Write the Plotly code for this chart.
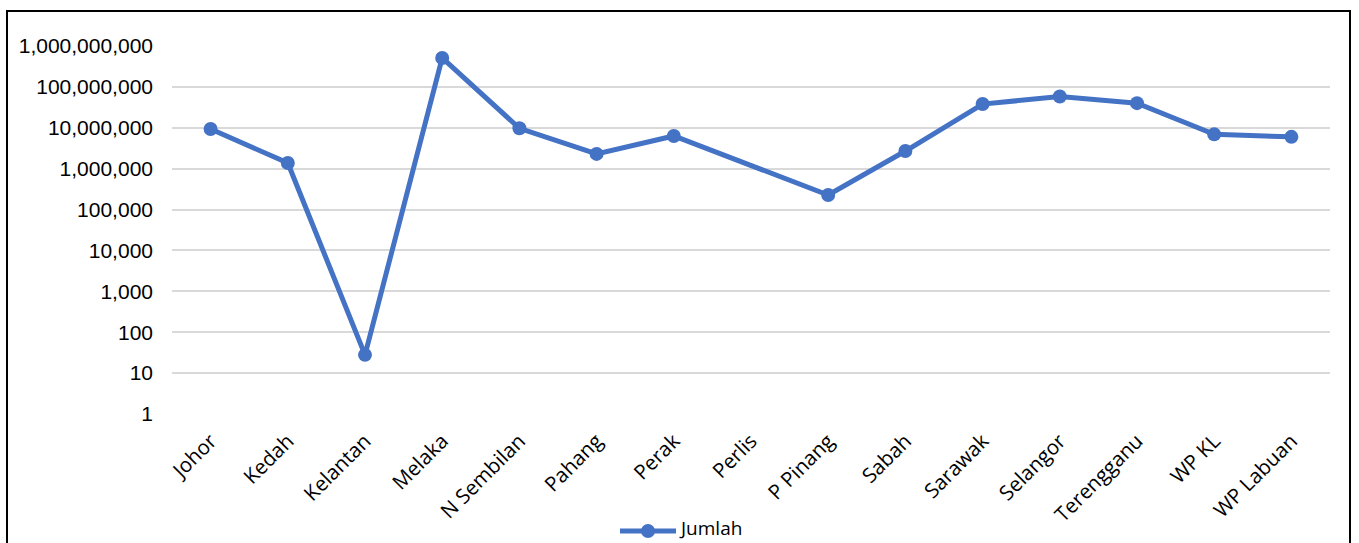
import plotly.graph_objects as go

categories = ["Johor", "Kedah", "Kelantan", "Melaka", "N Sembilan", "Pahang", "Perak",
              "Perlis", "P Pinang", "Sabah", "Sarawak", "Selangor", "Terengganu", "WP KL", "WP Labuan"]
jumlah = [9.3e6, 1.38e6, 28, 5.1e8, 9.7e6, 2.3e6, 6.3e6,
          None, 2.27e5, 2.7e6, 3.8e7, 5.8e7, 4.0e7, 6.9e6, 6.0e6]
series_name = "Jumlah"
tick_values = [1, 10, 100, 1000, 1e4, 1e5, 1e6, 1e7, 1e8, 1e9]
tick_labels = ["1", "10", "100", "1,000", "10,000", "100,000", "1,000,000",
               "10,000,000", "100,000,000", "1,000,000,000"]

color = "#4472C4"
W, H = 1359, 543
L, R, T, B = 172, 29, 46, 129
pw, ph = W - L - R, H - T - B


def px(x):
    return (x - L) / pw


def py(y):
    return (H - B - y) / ph


fig = go.Figure()
fig.add_trace(go.Scatter(
    x=categories, y=jumlah, name=series_name, mode="lines+markers",
    connectgaps=True, showlegend=False,
    line=dict(color=color, width=5),
    marker=dict(color=color, size=14),
))

# legend drawn manually (line + marker + label) to match original look
leg_y = 531
shapes = [
    dict(type="rect", xref="paper", yref="paper",
         x0=px(7), x1=px(1350), y0=py(560), y1=py(11),
         line=dict(color="black", width=2), fillcolor="rgba(0,0,0,0)", layer="above"),
    dict(type="line", xref="paper", yref="paper",
         x0=px(620), x1=px(676), y0=py(leg_y), y1=py(leg_y),
         line=dict(color=color, width=5)),
    dict(type="circle", xref="paper", yref="paper",
         x0=px(641), x1=px(655), y0=py(leg_y + 7), y1=py(leg_y - 7),
         line=dict(color=color, width=0), fillcolor=color),
]

fig.update_layout(
    width=W, height=H,
    margin=dict(l=L, r=R, t=T, b=B),
    paper_bgcolor="white", plot_bgcolor="white",
    showlegend=False,
    xaxis=dict(type="category", range=[-0.5, len(categories) - 0.5],
               tickangle=-45, showgrid=False, showline=False,
               ticks="", automargin=False, ticklabelstandoff=10,
               tickfont=dict(family="Open Sans", size=20.5, color="#000000")),
    yaxis=dict(type="log", range=[0, 9], tickvals=tick_values, ticktext=tick_labels,
               showgrid=True, gridcolor="#D9D9D9", gridwidth=1.5, zeroline=False,
               showline=False, ticks="", ticklabelstandoff=18, automargin=False,
               tickfont=dict(family="Liberation Sans, Arial", size=21, color="#000000")),
    shapes=shapes,
    annotations=[dict(text=series_name, xref="paper", yref="paper",
                      x=px(678), y=py(528), xanchor="left", yanchor="middle",
                      showarrow=False, borderpad=0,
                      font=dict(family="Open Sans", size=19, color="#000000"))],
)

fig.write_html("out.html", config={"displayModeBar": False},
               post_script="document.body.style.margin='0';")
